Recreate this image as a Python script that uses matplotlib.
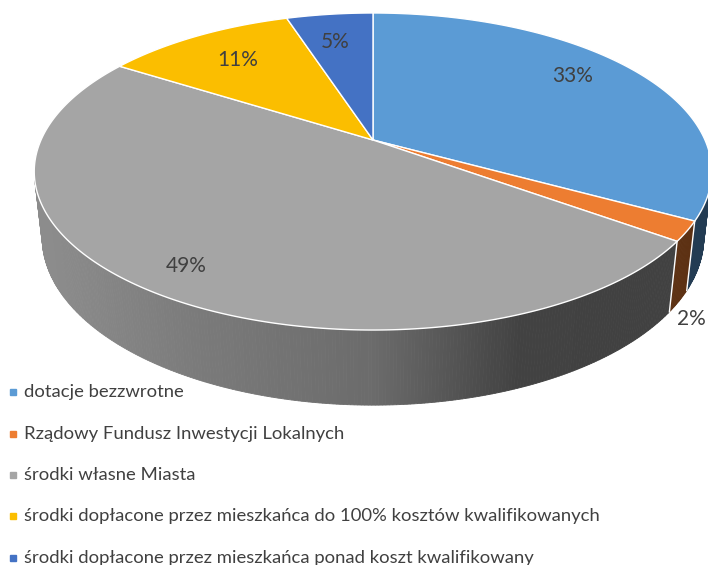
import numpy as np
import matplotlib
matplotlib.use("Agg")
import matplotlib.pyplot as plt
from matplotlib.patches import Polygon
from matplotlib.lines import Line2D

# ---------------- data ----------------
categories = [
    "dotacje bezzwrotne",
    "Rządowy Fundusz Inwestycji Lokalnych",
    "środki własne Miasta",
    "środki dopłacone przez mieszkańca do 100% kosztów kwalifikowanych",
    "środki dopłacone przez mieszkańca ponad koszt kwalifikowany",
]
values = [33, 2, 49, 11, 5]
colors = ["#5b9bd5", "#ed7d31", "#a5a5a5", "#fbbe00", "#4472c4"]

# ---------------- style / geometry ----------------
W, H_PX = 708, 565
CX, CY = 373.0, 140.0          # projected pie centre (px)
F = 1484.0                      # focal scale
D = 4.47                        # camera distance (in radii)
ALPHA = np.arcsin(0.4586)       # elevation
DEPTH = 0.2247                  # pie thickness (in radii)
sa, ca = np.sin(ALPHA), np.cos(ALPHA)
LABEL_COLOR = "#404040"
FONT = ["Lato", "DejaVu Sans"]

# label placement (radius fraction, z, angle shift) per slice
label_r = [0.80, 1.04, 0.86, 0.74, 0.75]
label_z = [0.0, -0.27, 0.0, 0.0, 0.0]
label_dphi = [-4.4, 0.0, 0.0, 0.0, -1.0]


def proj(X, Y, Z):
    yc = Y * sa + Z * ca
    dist = D + Y * ca - Z * sa
    return CX + F * X / dist, CY - F * yc / dist


def rim(phi_deg, z=0.0, r=1.0):
    p = np.radians(phi_deg)
    return proj(r * np.sin(p), r * np.cos(p), z)


def shade(sx):
    return np.interp(sx, [45, 200, 373, 520, 700], [0.85, 0.74, 0.65, 0.40, 0.39])


fig = plt.figure(figsize=(W / 100, H_PX / 100), dpi=100)
ax = fig.add_axes([0, 0, 1, 1])
ax.set_xlim(0, W)
ax.set_ylim(H_PX, 0)
ax.axis("off")

total = float(sum(values))
bounds = np.concatenate([[0], np.cumsum(values)]) / total * 360.0

# visible range of the outer wall
vis = np.degrees(np.arccos(-1.0 / (D * ca)))
vis_lo, vis_hi = vis, 360 - vis

# ---- side walls ----
for i, (a0, a1) in enumerate(zip(bounds[:-1], bounds[1:])):
    lo, hi = max(a0, vis_lo), min(a1, vis_hi)
    if hi <= lo:
        continue
    n = max(2, int((hi - lo) / 0.5) + 1)
    ph = np.linspace(lo, hi, n)
    base = np.array(matplotlib.colors.to_rgb(colors[i]))
    for p0, p1 in zip(ph[:-1], ph[1:]):
        pts = [rim(p0, 0), rim(p1, 0), rim(p1, -DEPTH), rim(p0, -DEPTH)]
        sx = 0.5 * (pts[0][0] + pts[1][0])
        c = np.clip(base * shade(sx), 0, 1)
        ax.add_patch(Polygon(pts, closed=True, facecolor=c, edgecolor=c,
                             lw=0.6, zorder=1))

# side seams
for b in bounds[1:-1]:
    if vis_lo < b < vis_hi:
        x0, y0 = rim(b, 0)
        x1, y1 = rim(b, -DEPTH)
        ax.plot([x0, x1], [y0, y1], color="white", lw=1.0, zorder=2)

# ---- top faces ----
for i, (a0, a1) in enumerate(zip(bounds[:-1], bounds[1:])):
    ph = np.linspace(a0, a1, max(3, int((a1 - a0) / 0.5) + 1))
    pts = [(CX, CY)] + [rim(p) for p in ph]
    ax.add_patch(Polygon(pts, closed=True, facecolor=colors[i],
                         edgecolor="white", lw=1.0, zorder=3))

# ---- data labels ----
for i, (a0, a1) in enumerate(zip(bounds[:-1], bounds[1:])):
    mid = 0.5 * (a0 + a1) + label_dphi[i]
    x, y = rim(mid, label_z[i], label_r[i])
    ax.text(x, y, f"{values[i]:.0f}%", ha="center", va="center",
            fontsize=15, color=LABEL_COLOR, family=FONT, zorder=5)

# ---- legend ----
leg_y = [392, 434, 475, 516, 558]
for i, name in enumerate(categories):
    ax.add_line(Line2D([13], [leg_y[i]], marker="s", markersize=4,
                       color=colors[i], linestyle="none"))
    ax.text(24, leg_y[i], name, ha="left", va="center", fontsize=13.3,
            color="#404040", family=FONT)

fig.savefig("out.png", dpi=100)
